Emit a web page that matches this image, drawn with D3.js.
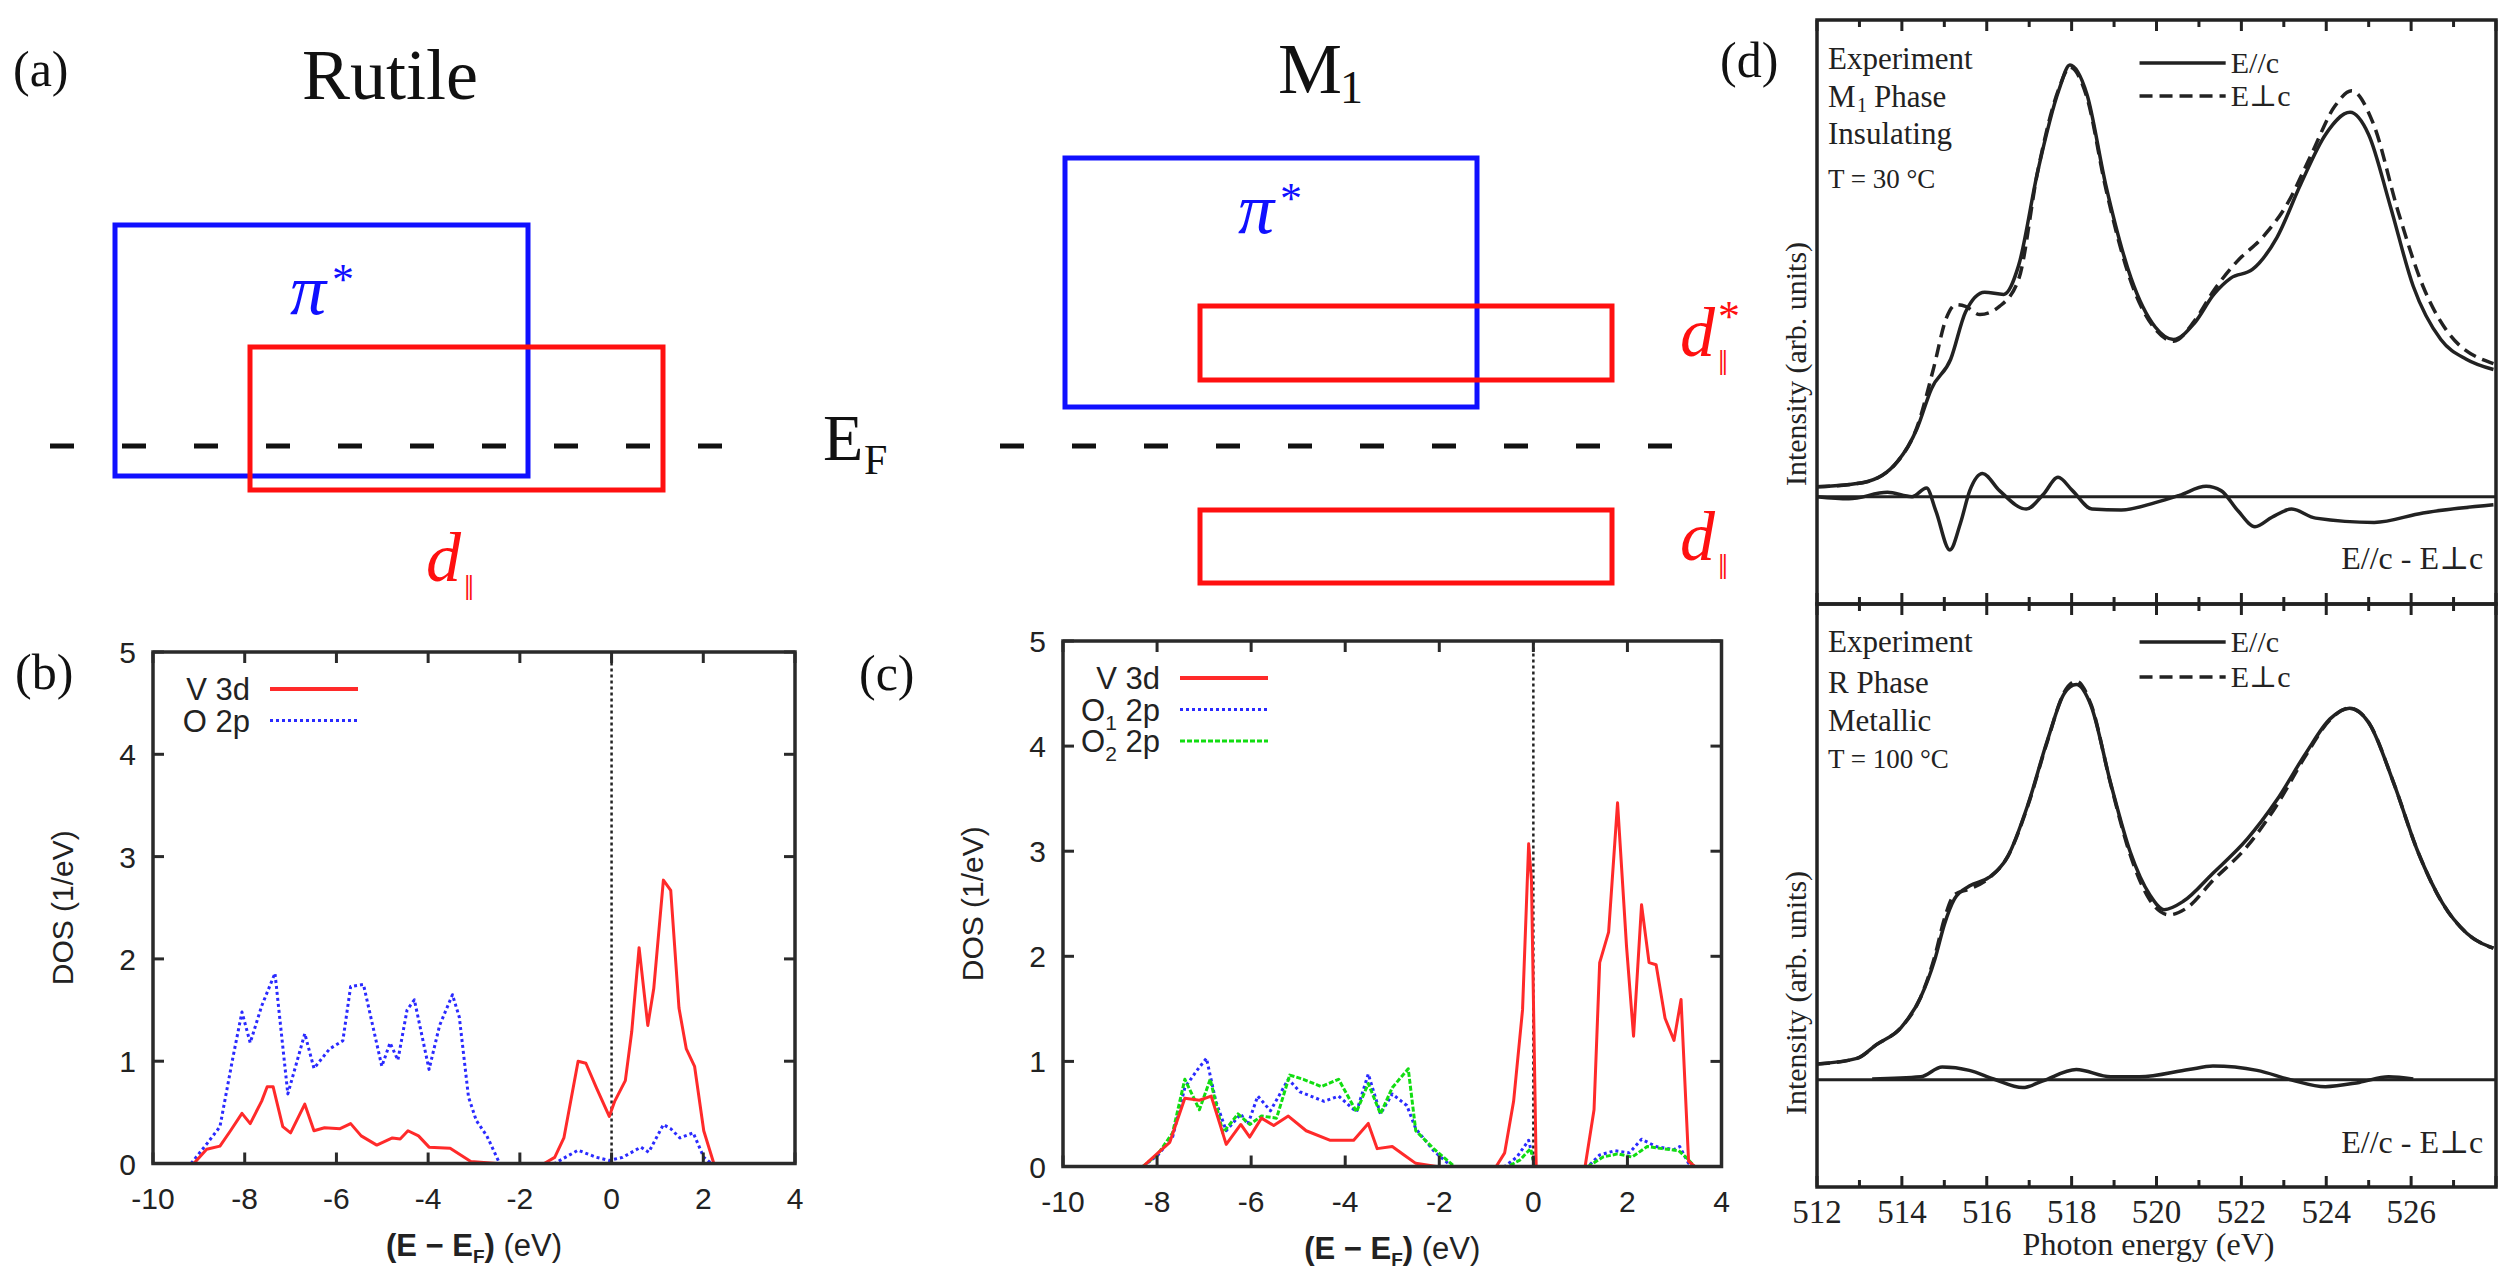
<!DOCTYPE html>
<html>
<head>
<meta charset="utf-8">
<script src="https://cdn.jsdelivr.net/npm/d3@7"></script>
<style>
  body { margin: 0; background: #fff; }
  svg { display: block; }
  .serif { font-family: "Liberation Serif", "DejaVu Serif", serif; }
  .sans { font-family: "Liberation Sans", Arial, sans-serif; }
</style>
</head>
<body>
<svg id="fig" width="2515" height="1277"></svg>
<script>

// ---------------- data ----------------

// (a) schematic bands: horizontal extent (arb.) and energy relative to E_F (arb.)
var rutileBands = [
  {kind: "pi", x0: 0, x1: 4.13, top: 2.21, bottom: -0.30, color: "#1010ff"},
  {kind: "d",  x0: 1.35, x1: 5.48, top: 0.99, bottom: -0.44, color: "#ff1010"}
];
var m1Bands = [
  {kind: "pi",    x0: 0, x1: 4.12, top: 2.88, bottom: 0.39, color: "#1010ff"},
  {kind: "dstar", x0: 1.35, x1: 5.47, top: 1.40, bottom: 0.66, color: "#ff1010"},
  {kind: "d",     x0: 1.35, x1: 5.47, top: -0.64, bottom: -1.37, color: "#ff1010"}
];
var rutileLabels = [
  {kind: "pi", x: 1.75, y: 1.32, color: "#1010ff"},
  {kind: "d",  x: 3.11, y: -1.35, color: "#ff1010"}
];
var m1Labels = [
  {kind: "pi",    x: 1.73, y: 2.13, color: "#1010ff"},
  {kind: "dstar", x: 6.15, y: 0.90, color: "#ff1010"},
  {kind: "d",     x: 6.15, y: -1.14, color: "#ff1010"}
];
var fermiSpan = [-0.65, 6.15];

// (b),(c) DOS axes
var dosTicksX = [-10, -8, -6, -4, -2, 0, 2, 4];
var dosTicksY = [0, 1, 2, 3, 4, 5];

// (b) rutile DOS  [E - EF (eV), DOS (1/eV)]
var rutileV3d = [[-9.11,0],[-8.83,0.14],[-8.54,0.17],[-8.31,0.32],[-8.06,0.49],[-7.88,0.39],[-7.63,0.61],
  [-7.51,0.75],[-7.38,0.75],[-7.17,0.36],[-7.0,0.30],[-6.69,0.58],[-6.49,0.32],[-6.26,0.35],[-5.92,0.34],
  [-5.69,0.39],[-5.46,0.27],[-5.12,0.18],[-4.78,0.25],[-4.61,0.24],[-4.44,0.32],[-4.21,0.27],[-3.98,0.16],
  [-3.52,0.15],[-3.07,0.02],[-2.5,0],[-1.47,0],[-1.24,0.06],[-1.04,0.25],[-0.73,1.0],[-0.56,0.98],
  [-0.33,0.74],[-0.05,0.46],[0.07,0.61],[0.3,0.81],[0.44,1.29],[0.6,2.11],[0.79,1.35],[0.92,1.71],
  [1.13,2.77],[1.29,2.67],[1.47,1.52],[1.63,1.12],[1.81,0.95],[2.01,0.32],[2.23,0]];
var rutileO2p = [[-9.17,0],[-8.83,0.19],[-8.54,0.36],[-8.26,1.03],[-8.06,1.48],[-7.88,1.18],[-7.63,1.54],
  [-7.34,1.86],[-7.06,0.68],[-6.89,0.95],[-6.69,1.27],[-6.49,0.93],[-6.15,1.12],[-5.86,1.2],[-5.69,1.73],
  [-5.41,1.75],[-5.21,1.35],[-5.01,0.95],[-4.83,1.18],[-4.66,1.01],[-4.46,1.5],[-4.3,1.6],[-3.98,0.92],
  [-3.75,1.35],[-3.47,1.65],[-3.32,1.43],[-3.12,0.65],[-2.95,0.42],[-2.72,0.27],[-2.44,0],[-1.24,0],
  [-1.01,0.06],[-0.73,0.13],[-0.33,0.06],[-0.05,0.03],[0.24,0.06],[0.64,0.16],[0.81,0.11],[1.13,0.38],
  [1.29,0.34],[1.49,0.25],[1.78,0.30],[2.01,0.06],[2.18,0]];

// (c) M1 DOS
var m1V3d = [[-8.3,0],[-7.98,0.13],[-7.73,0.23],[-7.41,0.65],[-7.1,0.63],[-6.85,0.67],[-6.53,0.21],
  [-6.22,0.40],[-6.03,0.28],[-5.78,0.46],[-5.52,0.39],[-5.21,0.48],[-4.83,0.34],[-4.33,0.25],[-3.82,0.25],
  [-3.51,0.41],[-3.32,0.17],[-3.0,0.19],[-2.75,0.11],[-2.5,0.03],[-2.06,0],[-0.79,0],[-0.61,0.13],
  [-0.42,0.62],[-0.23,1.49],[-0.1,3.07],[-0.04,2.72],[0.06,0],[1.1,0],[1.29,0.54],[1.41,1.94],[1.6,2.23],
  [1.79,3.46],[1.98,2.10],[2.13,1.24],[2.3,2.49],[2.46,1.94],[2.61,1.92],[2.8,1.41],[2.99,1.20],
  [3.14,1.59],[3.3,0.05],[3.43,0]];
var m1O1 = [[-8.3,0],[-7.98,0.11],[-7.67,0.28],[-7.41,0.75],[-7.16,0.91],[-6.95,1.03],[-6.75,0.62],
  [-6.53,0.34],[-6.22,0.50],[-6.07,0.40],[-5.86,0.67],[-5.59,0.53],[-5.21,0.83],[-4.96,0.71],[-4.45,0.62],
  [-4.14,0.67],[-3.76,0.52],[-3.51,0.88],[-3.25,0.50],[-3.0,0.69],[-2.69,0.58],[-2.5,0.36],[-2.12,0.15],
  [-1.74,0],[-0.61,0],[-0.35,0.09],[-0.1,0.25],[0.03,0],[1.16,0],[1.41,0.11],[1.73,0.15],[2.04,0.13],
  [2.3,0.26],[2.61,0.19],[2.99,0.16],[3.11,0.19],[3.3,0.03],[3.43,0]];
var m1O2 = [[-8.3,0],[-7.98,0.12],[-7.67,0.32],[-7.41,0.83],[-7.1,0.54],[-6.87,0.83],[-6.6,0.32],
  [-6.28,0.50],[-6.03,0.40],[-5.78,0.48],[-5.46,0.46],[-5.18,0.87],[-4.89,0.83],[-4.51,0.76],[-4.14,0.83],
  [-3.76,0.52],[-3.51,0.79],[-3.25,0.50],[-3.0,0.75],[-2.66,0.93],[-2.5,0.34],[-2.12,0.17],[-1.68,0],
  [-0.54,0],[-0.29,0.06],[-0.06,0.17],[0.03,0],[1.16,0],[1.48,0.09],[1.79,0.12],[2.1,0.09],[2.42,0.19],
  [2.74,0.17],[3.09,0.15],[3.24,0.09],[3.43,0]];

// (d) XAS  [photon energy (eV), intensity (arb.)]
var xasTicks = [512, 513, 514, 515, 516, 517, 518, 519, 520, 521, 522, 523, 524, 525, 526, 527, 528];
var xasTickLabels = [512, 514, 516, 518, 520, 522, 524, 526];
var m1Par = [[512.0,0.023],[513.1,0.033],[513.9,0.082],[514.35,0.157],[514.7,0.252],[515.15,0.32],
  [515.5,0.43],[515.95,0.476],[516.4,0.471],[516.75,0.538],[517.2,0.757],[517.7,0.947],[517.96,1.005],
  [518.36,0.937],[518.8,0.728],[519.4,0.509],[519.97,0.395],[520.4,0.366],[520.9,0.405],[521.35,0.471],
  [521.75,0.509],[522.26,0.529],[522.84,0.604],[523.4,0.728],[523.98,0.843],[524.56,0.895],[525.0,0.843],
  [525.5,0.68],[526.05,0.49],[526.7,0.366],[527.3,0.32],[527.94,0.296]];
var m1Perp = [[512.0,0.023],[513.1,0.033],[513.9,0.082],[514.35,0.16],[514.75,0.30],[515.04,0.414],
  [515.27,0.447],[515.5,0.443],[515.84,0.424],[516.3,0.443],[516.76,0.509],[517.2,0.757],[517.7,0.95],
  [517.96,1.0],[518.36,0.93],[518.8,0.72],[519.4,0.50],[519.97,0.39],[520.4,0.362],[520.9,0.41],
  [521.35,0.48],[521.9,0.548],[522.5,0.604],[523.07,0.68],[523.64,0.795],[524.2,0.909],[524.6,0.945],
  [525.1,0.871],[525.7,0.662],[526.28,0.49],[526.85,0.385],[527.94,0.31]];
var m1Diff = [[512.0,0],[512.75,-0.005],[513.66,0.01],[514.24,0],[514.58,0.02],[514.8,-0.033],
  [515.13,-0.124],[515.38,-0.062],[515.6,0.014],[515.9,0.054],[516.3,0.014],[516.93,-0.029],[517.33,0.005],
  [517.68,0.045],[518.02,0.014],[518.48,-0.029],[519.17,-0.031],[519.97,-0.014],[520.54,0.003],
  [521.17,0.024],[521.52,0.014],[521.92,-0.033],[522.32,-0.07],[522.72,-0.048],[523.18,-0.029],
  [523.75,-0.05],[525.13,-0.06],[526.28,-0.038],[527.94,-0.019]];
var rPar = [[512.0,0.037],[512.94,0.05],[513.4,0.082],[513.98,0.122],[514.44,0.192],[514.78,0.282],
  [515.0,0.362],[515.24,0.422],[515.59,0.452],[516.05,0.472],[516.5,0.522],[516.97,0.642],[517.43,0.792],
  [517.83,0.902],[518.11,0.922],[518.46,0.872],[518.92,0.692],[519.38,0.532],[519.84,0.432],[520.18,0.397],
  [520.64,0.417],[521.33,0.482],[522.14,0.562],[522.83,0.652],[523.52,0.762],[524.09,0.842],[524.55,0.867],
  [525.01,0.832],[525.59,0.692],[526.16,0.532],[526.74,0.412],[527.31,0.342],[527.94,0.307]];
var rPerp = [[512.0,0.037],[512.94,0.05],[513.4,0.082],[513.98,0.122],[514.44,0.192],[514.78,0.29],
  [515.0,0.375],[515.24,0.432],[515.59,0.445],[516.05,0.47],[516.5,0.522],[516.97,0.64],[517.43,0.79],
  [517.83,0.905],[518.11,0.93],[518.46,0.875],[518.92,0.69],[519.38,0.525],[519.84,0.42],[520.3,0.385],
  [520.7,0.40],[521.33,0.465],[522.14,0.545],[522.83,0.64],[523.52,0.757],[524.09,0.84],[524.55,0.867],
  [525.01,0.832],[525.59,0.692],[526.16,0.532],[526.74,0.412],[527.31,0.342],[527.94,0.307]];
var rDiff = [[513.3,0.002],[514.44,0.007],[514.95,0.03],[515.59,0.022],[516.16,0.002],[516.85,-0.018],
  [517.31,-0.003],[518.11,0.024],[518.92,0.007],[519.6,0.007],[520.76,0.024],[521.33,0.032],[522.37,0.022],
  [523.17,0],[523.98,-0.016],[524.78,-0.006],[525.47,0.007],[526.05,0.002]];

// ---------------- drawing ----------------
var svg = d3.select("#fig");

// text with tspans: parts = [{t, size, dy, style, weight}]
function addText(g, x, y, parts, cls, attrs) {
  var t = g.append("text").attr("x", x).attr("y", y).attr("class", cls);
  Object.keys(attrs || {}).forEach(function(k) { t.attr(k, attrs[k]); });
  parts.forEach(function(p) {
    var s = t.append("tspan").text(p.t);
    if (p.size) s.attr("font-size", p.size);
    if (p.dy) s.attr("dy", p.dy);
    if (p.style) s.attr("font-style", p.style);
    if (p.weight) s.attr("font-weight", p.weight);
  });
  return t;
}

/*************** panel (a) ***************/
var ya = d3.scaleLinear().domain([0, 1]).range([446, 346]);
var xaRutile = d3.scaleLinear().domain([0, 1]).range([115, 215]);
var xaM1 = d3.scaleLinear().domain([0, 1]).range([1065, 1165]);

function drawSchematic(bands, labels, xs) {
  var g = svg.append("g");
  g.append("line")
    .attr("x1", xs(fermiSpan[0])).attr("x2", xs(fermiSpan[1]))
    .attr("y1", ya(0)).attr("y2", ya(0))
    .attr("stroke", "#111").attr("stroke-width", 5)
    .attr("stroke-dasharray", "24,48");
  g.selectAll("rect").data(bands).enter().append("rect")
    .attr("x", function(d) { return xs(d.x0); })
    .attr("y", function(d) { return ya(d.top); })
    .attr("width", function(d) { return xs(d.x1) - xs(d.x0); })
    .attr("height", function(d) { return ya(d.bottom) - ya(d.top); })
    .attr("fill", "none")
    .attr("stroke", function(d) { return d.color; })
    .attr("stroke-width", 5);
  labels.forEach(function(l) {
    var x = xs(l.x), y = ya(l.y);
    if (l.kind == "pi") {
      addText(g, x, y, [{t: "π"}], "serif", {"font-size": 72, "font-style": "italic", fill: l.color});
      addText(g, x + 42, y - 20, [{t: "*"}], "serif", {"font-size": 44, fill: l.color});
    } else {
      addText(g, x, y, [{t: "d"}], "serif", {"font-size": 70, "font-style": "italic", fill: l.color});
      addText(g, x + 38, y + 19, [{t: "‖"}], "serif", {"font-size": 36, fill: l.color});
      if (l.kind == "dstar")
        addText(g, x + 38, y - 25, [{t: "*"}], "serif", {"font-size": 44, fill: l.color});
    }
  });
  return g;
}
var ga = drawSchematic(rutileBands, rutileLabels, xaRutile);
drawSchematic(m1Bands, m1Labels, xaM1);

addText(ga, 13, 86, [{t: "(a)"}], "serif", {"font-size": 50, fill: "#111"});
addText(ga, xaRutile(2.75), 99, [{t: "Rutile"}], "serif", {"font-size": 72, "text-anchor": "middle", fill: "#111"});
addText(ga, xaM1(2.45), 93, [{t: "M"}], "serif", {"font-size": 72, "text-anchor": "middle", fill: "#111"});
addText(ga, xaM1(2.45) + 30, 103, [{t: "1"}], "serif", {"font-size": 46, fill: "#111"});
addText(ga, xaRutile(7.08), ya(-0.14), [{t: "E"}], "serif", {"font-size": 66, fill: "#111"});
addText(ga, xaRutile(7.08) + 41, ya(-0.14) + 14, [{t: "F"}], "serif", {"font-size": 42, fill: "#111"});

/*************** panels (b), (c) ***************/
function drawDos(frame, series, legend, tag, tagPos) {
  var x = d3.scaleLinear().domain([-10, 4]).range([frame.left, frame.right]);
  var y = d3.scaleLinear().domain([0, 5]).range([frame.bottom, frame.top]);
  var g = svg.append("g");
  var line = d3.line().x(function(d) { return x(d[0]); }).y(function(d) { return y(d[1]); });

  // E_F marker
  g.append("line").attr("x1", x(0)).attr("x2", x(0)).attr("y1", y(0)).attr("y2", y(5))
    .attr("stroke", "#222").attr("stroke-width", 2.5).attr("stroke-dasharray", "3,3");

  series.forEach(function(s) {
    g.append("path").datum(s.values).attr("d", line)
      .attr("fill", "none").attr("stroke", s.color).attr("stroke-width", 3)
      .attr("stroke-dasharray", s.dash || null).attr("stroke-linejoin", "round");
  });

  // frame + mirrored inward ticks
  g.append("rect").attr("x", frame.left).attr("y", frame.top)
    .attr("width", frame.right - frame.left).attr("height", frame.bottom - frame.top)
    .attr("fill", "none").attr("stroke", "#2a2a2a").attr("stroke-width", 3.5);
  dosTicksX.forEach(function(v) {
    g.append("line").attr("x1", x(v)).attr("x2", x(v)).attr("y1", frame.bottom).attr("y2", frame.bottom - 11)
      .attr("stroke", "#2a2a2a").attr("stroke-width", 3);
    g.append("line").attr("x1", x(v)).attr("x2", x(v)).attr("y1", frame.top).attr("y2", frame.top + 11)
      .attr("stroke", "#2a2a2a").attr("stroke-width", 3);
    addText(g, x(v), frame.bottom + 45, [{t: String(v)}], "sans",
      {"font-size": 30, "text-anchor": "middle", fill: "#222"});
  });
  dosTicksY.forEach(function(v) {
    g.append("line").attr("x1", frame.left).attr("x2", frame.left + 11).attr("y1", y(v)).attr("y2", y(v))
      .attr("stroke", "#2a2a2a").attr("stroke-width", 3);
    g.append("line").attr("x1", frame.right).attr("x2", frame.right - 11).attr("y1", y(v)).attr("y2", y(v))
      .attr("stroke", "#2a2a2a").attr("stroke-width", 3);
    addText(g, frame.left - 17, y(v) + 11, [{t: String(v)}], "sans",
      {"font-size": 30, "text-anchor": "end", fill: "#222"});
  });

  // legend
  legend.forEach(function(l, i) {
    var ly = frame.top + 37 + i * 31.5;
    addText(g, frame.left + 97, ly + 11, l.label, "sans", {"font-size": 31, "text-anchor": "end", fill: "#222"});
    g.append("line").attr("x1", frame.left + 117).attr("x2", frame.left + 205).attr("y1", ly).attr("y2", ly)
      .attr("stroke", l.color).attr("stroke-width", l.dash ? 3 : 4).attr("stroke-dasharray", l.dash || null);
  });

  // axis titles
  addText(g, 0, 0, [{t: "DOS (1/eV)"}], "sans",
    {"font-size": 30, "text-anchor": "middle", fill: "#222",
     transform: "translate(" + (frame.left - 80) + "," + ((frame.top + frame.bottom) / 2) + ") rotate(-90)"});
  addText(g, (frame.left + frame.right) / 2, frame.bottom + 92,
    [{t: "(E − E", weight: "bold"}, {t: "F", size: 19, dy: 7, weight: "bold"},
     {t: ")", dy: -7, weight: "bold"}, {t: " (eV)"}], "sans",
    {"font-size": 31, "text-anchor": "middle", fill: "#222"});

  addText(g, tagPos[0], tagPos[1], [{t: tag}], "serif", {"font-size": 50, fill: "#111"});
}

drawDos({left: 153, right: 795, top: 652, bottom: 1163.5},
  [{values: rutileO2p, color: "#2a2aff", dash: "3,3"},
   {values: rutileV3d, color: "#ff2a2a"}],
  [{label: [{t: "V 3d"}], color: "#ff2a2a"},
   {label: [{t: "O 2p"}], color: "#2a2aff", dash: "3,3"}],
  "(b)", [15, 689]);

drawDos({left: 1063, right: 1721.5, top: 641, bottom: 1166.5},
  [{values: m1O1, color: "#2a2aff", dash: "3,3"},
   {values: m1O2, color: "#11dd11", dash: "5,2"},
   {values: m1V3d, color: "#ff2a2a"}],
  [{label: [{t: "V 3d"}], color: "#ff2a2a"},
   {label: [{t: "O"}, {t: "1", size: 21, dy: 9}, {t: " 2p", dy: -9}], color: "#2a2aff", dash: "3,3"},
   {label: [{t: "O"}, {t: "2", size: 21, dy: 9}, {t: " 2p", dy: -9}], color: "#11dd11", dash: "5,2"}],
  "(c)", [859, 690]);

/*************** panel (d) ***************/
var xd = d3.scaleLinear().domain([512, 528]).range([1817, 2496]);

function drawXas(top, bottom, par, perp, diff, lines, legendY, ylabelMid, showLabels) {
  var y = d3.scaleLinear().domain([-0.25, 1.11]).range([bottom, top]);
  var g = svg.append("g");
  var line = d3.line().curve(d3.curveMonotoneX)
    .x(function(d) { return xd(d[0]); }).y(function(d) { return y(d[1]); });

  g.append("line").attr("x1", xd(512)).attr("x2", xd(528)).attr("y1", y(0)).attr("y2", y(0))
    .attr("stroke", "#222").attr("stroke-width", 3);
  g.append("path").datum(perp).attr("d", line).attr("fill", "none")
    .attr("stroke", "#222").attr("stroke-width", 3.5).attr("stroke-dasharray", "13,7");
  g.append("path").datum(par).attr("d", line).attr("fill", "none")
    .attr("stroke", "#222").attr("stroke-width", 3.5);
  g.append("path").datum(diff).attr("d", line).attr("fill", "none")
    .attr("stroke", "#222").attr("stroke-width", 3.5);

  g.append("rect").attr("x", xd(512)).attr("y", top).attr("width", xd(528) - xd(512))
    .attr("height", bottom - top).attr("fill", "none").attr("stroke", "#222").attr("stroke-width", 3.5);
  xasTicks.forEach(function(v) {
    var len = v % 2 == 0 ? 11 : 7;
    g.append("line").attr("x1", xd(v)).attr("x2", xd(v)).attr("y1", bottom).attr("y2", bottom - len)
      .attr("stroke", "#222").attr("stroke-width", 3);
    g.append("line").attr("x1", xd(v)).attr("x2", xd(v)).attr("y1", top).attr("y2", top + len)
      .attr("stroke", "#222").attr("stroke-width", 3);
  });

  // annotation lines; a subscripted first letter is split into separate texts
  lines.forEach(function(l) {
    var x0 = xd(512) + 11, fs = l.size || 31;
    if (l.sub) {
      addText(g, x0, top + l.dy, [{t: l.head}], "serif", {"font-size": fs, fill: "#222"});
      addText(g, x0 + 29, top + l.dy + 5, [{t: l.sub}], "serif", {"font-size": 20, fill: "#222"});
      addText(g, x0 + 46, top + l.dy, [{t: l.text}], "serif", {"font-size": fs, fill: "#222"});
    } else {
      addText(g, x0, top + l.dy, [{t: l.text}], "serif", {"font-size": fs, fill: "#222"});
    }
  });

  // legend
  g.append("line").attr("x1", xd(519.6)).attr("x2", xd(521.63)).attr("y1", top + legendY[0]).attr("y2", top + legendY[0])
    .attr("stroke", "#222").attr("stroke-width", 3.5);
  g.append("line").attr("x1", xd(519.6)).attr("x2", xd(521.63)).attr("y1", top + legendY[1]).attr("y2", top + legendY[1])
    .attr("stroke", "#222").attr("stroke-width", 3.5).attr("stroke-dasharray", "13,7");
  addText(g, xd(521.75), top + legendY[0] + 10, [{t: "E//c"}], "serif", {"font-size": 30, fill: "#222"});
  addText(g, xd(521.75), top + legendY[1] + 10, [{t: "E⊥c"}], "serif", {"font-size": 30, fill: "#222"});

  addText(g, xd(527.7), top + 549, [{t: "E//c - E⊥c"}], "serif",
    {"font-size": 32, "text-anchor": "end", fill: "#222"});

  addText(g, 0, 0, [{t: "Intensity (arb. units)"}], "serif",
    {"font-size": 30, "text-anchor": "middle", fill: "#222",
     transform: "translate(1806," + (top + ylabelMid) + ") rotate(-90)"});

  if (showLabels) {
    xasTickLabels.forEach(function(v) {
      addText(g, xd(v), bottom + 36, [{t: String(v)}], "serif",
        {"font-size": 33, "text-anchor": "middle", fill: "#222"});
    });
    addText(g, (xd(512) + xd(528)) / 2 - 8, bottom + 68, [{t: "Photon energy (eV)"}], "serif",
      {"font-size": 32, "text-anchor": "middle", fill: "#222"});
  }
}

drawXas(20, 604, m1Par, m1Perp, m1Diff,
  [{dy: 49, text: "Experiment"},
   {dy: 87, head: "M", sub: "1", text: "Phase"},
   {dy: 124, text: "Insulating"},
   {dy: 168, size: 27, text: "T = 30 °C"}],
  [43, 76], 344, false);

drawXas(604, 1187, rPar, rPerp, rDiff,
  [{dy: 48, text: "Experiment"},
   {dy: 89, text: "R Phase"},
   {dy: 127, text: "Metallic"},
   {dy: 164, size: 27, text: "T = 100 °C"}],
  [38, 73], 389, true);

addText(svg, 1720, 77, [{t: "(d)"}], "serif", {"font-size": 50, fill: "#111"});

</script>
</body>
</html>
